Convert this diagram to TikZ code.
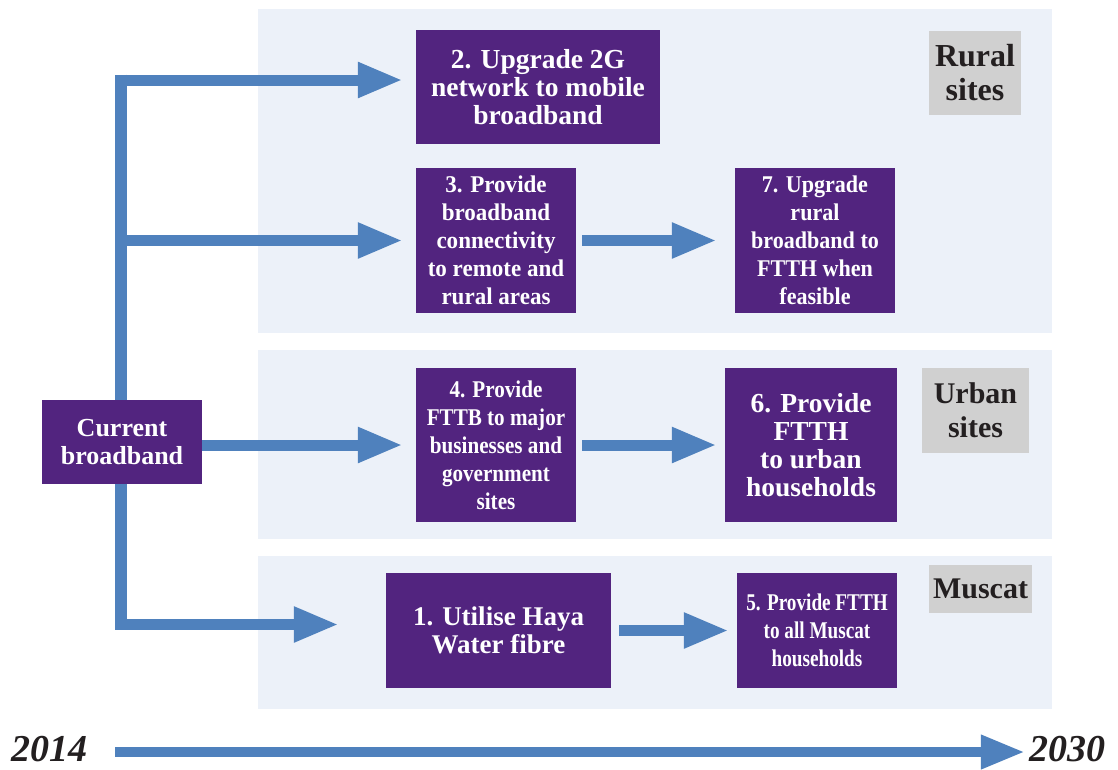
\documentclass[tikz,border=0pt]{standalone}
\usepackage{fontspec}
\setmainfont{Liberation Serif}
\newfontfamily\cnC[FakeStretch=0.96]{Liberation Serif}
\newfontfamily\cnA[FakeStretch=0.92]{Liberation Serif}
\newfontfamily\cnB[FakeStretch=0.88]{Liberation Serif}
\newfontfamily\cnD[FakeStretch=0.80]{Liberation Serif}
\usetikzlibrary{arrows.meta}
\definecolor{panelc}{RGB}{236,241,249}
\definecolor{purp}{RGB}{82,36,127}
\definecolor{flowc}{RGB}{79,129,189}
\definecolor{labc}{RGB}{208,208,208}
\definecolor{labt}{RGB}{35,31,32}
\pgfdeclarelayer{back}
\pgfdeclarelayer{mid}
\pgfsetlayers{back,mid,main}
\tikzset{
  panel/.style={fill=panelc,draw=none},
  box/.style={fill=purp,text=white,inner sep=0pt,align=center,
    font=\bfseries\fontsize{26}{28}\selectfont},
  cbox/.style={fill=purp,text=white,inner sep=0pt,align=center},
  lab/.style={fill=labc,text=labt,inner sep=0pt,align=center,
    font=\bfseries\fontsize{30}{34}\selectfont},
  flow/.style={draw=flowc,line width=11pt,-{Triangle[length=45pt,width=33pt]}},
  trunk/.style={draw=flowc,line width=12pt},
  tl/.style={draw=flowc,line width=10pt,-{Triangle[length=44pt,width=32pt]}},
  year/.style={inner sep=0pt,text=labt,font=\bfseries\itshape\fontsize{38}{40}\selectfont},
}
\begin{document}
\begin{tikzpicture}[x=1pt,y=-1pt]
\useasboundingbox (0,0) rectangle (1118,769);
% panels
\begin{pgfonlayer}{back}
\fill[white] (0,0) rectangle (1118,769);
\path[panel] (258,9) rectangle (1052,333);
\path[panel] (258,350) rectangle (1052,539);
\path[panel] (258,556) rectangle (1052,709);
\end{pgfonlayer}
% boxes
\node[box,font=\bfseries\fontsize{27.5}{28}\selectfont,minimum width=244pt,minimum height=114pt] (b2) at (538,87)
  {2. Upgrade 2G\\network to mobile\\broadband};
\node[cbox,font=\cnC\bfseries\fontsize{24}{28}\selectfont,minimum width=160pt,minimum height=145pt] (b3) at (496,240.5)
  {3. Provide\\broadband\\connectivity\\to remote and\\rural areas};
\node[cbox,font=\cnA\bfseries\fontsize{24}{28}\selectfont,minimum width=160pt,minimum height=145pt] (b7) at (815,240.5)
  {7. Upgrade\\rural\\broadband to\\FTTH when\\feasible};
\node[box,minimum width=160pt,minimum height=84pt] (cur) at (122,442)
  {Current\\broadband};
\node[cbox,font=\cnB\bfseries\fontsize{24}{28}\selectfont,minimum width=160pt,minimum height=154pt] (b4) at (496,445)
  {4. Provide\\FTTB to major\\businesses and\\government\\sites};
\node[box,font=\bfseries\fontsize{27.5}{28}\selectfont,minimum width=172pt,minimum height=154pt] (b6) at (811,445)
  {6. Provide\\FTTH\\to urban\\households};
\node[box,font=\bfseries\fontsize{27}{28}\selectfont,minimum width=225pt,minimum height=115pt] (b1) at (498.5,630.5)
  {1. Utilise Haya\\Water fibre};
\node[cbox,font=\cnD\bfseries\fontsize{24}{28}\selectfont,minimum width=160pt,minimum height=115pt] (b5) at (817,630.5)
  {5. Provide FTTH\\to all Muscat\\households};
% labels
\node[lab,font=\bfseries\fontsize{32}{34}\selectfont,minimum width=92pt,minimum height=84pt] (lr) at (975,73) {Rural\\sites};
\node[lab,minimum width=107pt,minimum height=85pt] (lu) at (975.5,410.5) {Urban\\sites};
\node[lab,minimum width=103pt,minimum height=48pt] (lm) at (980.5,589) {Muscat};
% years
\node[year] (y14) at (50,749) {2014};
\node[year] (y30) at (1067,749) {2030};
% connectors
\coordinate (ttop) at (121,74.5);
\coordinate (tbot) at (121,630);
\coordinate (j2) at (115,80);
\coordinate (j3) at (115,240.5);
\coordinate (j1) at (115,624.5);
\coordinate (t0) at (115,752);
\begin{pgfonlayer}{mid}
\draw[trunk] (ttop) -- (tbot);
\draw[flow,shorten >=13pt] (j2) -- (j2 -| b2.west);
\draw[flow,shorten >=13pt] (j3) -- (b3.west);
\draw[flow,shorten >=13pt] (cur.east |- b4.west) -- (b4.west);
\draw[flow,shorten >=47pt] (j1) -- (j1 -| b1.west);
\draw[flow,shorten <=6pt,shorten >=18pt] (b3.east) -- (b7.west);
\draw[flow,shorten <=6pt,shorten >=8pt] (b4.east) -- (b6.west);
\draw[flow,shorten <=8pt,shorten >=8pt] (b1.east) -- (b5.west);
\draw[tl,shorten >=4pt] (t0) -- (t0 -| y30.west);
\end{pgfonlayer}
\end{tikzpicture}
\end{document}
